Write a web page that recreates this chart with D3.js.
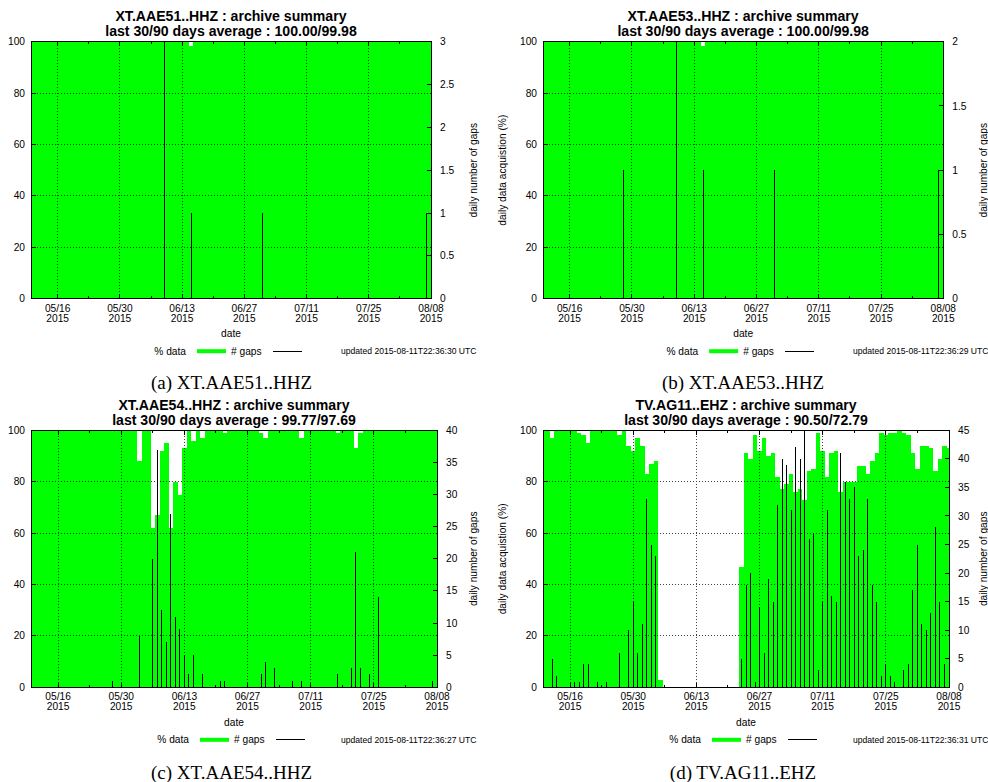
<!DOCTYPE html>
<html><head><meta charset="utf-8">
<script src="https://cdn.jsdelivr.net/npm/d3@7"></script>
<style>
body{margin:0;background:#fff}
svg{display:block}
text{font-family:"Liberation Sans",Arial,Helvetica,sans-serif;fill:#000}
</style>
</head><body><svg id="chart" width="988" height="782"></svg>
<script>
// ---------- data ----------
const startDate = "2015-05-10";
const endDate = "2015-08-08";
const xTickDates = ["2015-05-16","2015-05-30","2015-06-13","2015-06-27","2015-07-11","2015-07-25","2015-08-08"];
const xMinorDates = ["2015-05-23","2015-06-06","2015-06-20","2015-07-04","2015-07-18","2015-08-01"];
const yTicks = [0,20,40,60,80,100];

// daily data acquisition (%) per day starting 2015-05-10 (91 days)
const pctA = [
100,100,100,100,100,100,100,100,100,100,
100,100,100,100,100,100,100,100,100,100,
100,100,100,100,100,100,100,100,100,100,
100,100,100,100,100,100,98.5,100,100,100,
100,100,100,100,100,100,100,100,100,100,
100,100,100,100,100,100,100,100,100,100,
100,100,100,100,100,100,100,100,100,100,
100,100,100,100,100,100,100,100,100,100,
100,100,100,100,100,100,100,100,100,100,
100];
const gapsA = [
0,0,0,0,0,0,0,0,0,0,
0,0,0,0,0,0,0,0,0,0,
0,0,0,0,0,0,0,0,0,0,
3,0,0,0,0,0,1,0,0,0,
0,0,0,0,0,0,0,0,0,0,
0,0,1,0,0,0,0,0,0,0,
0,0,0,0,0,0,0,0,0,0,
0,0,0,0,0,0,0,0,0,0,
0,0,0,0,0,0,0,0,0,1,
0];
const y2TicksA = [0,0.5,1,1.5,2,2.5,3];

const pctB = [
100,100,100,100,100,100,100,100,100,100,
100,100,100,100,100,100,100,100,100,100,
100,100,100,100,100,100,100,100,100,100,
100,100,100,100,100,100,98.5,100,100,100,
100,100,100,100,100,100,100,100,100,100,
100,100,100,100,100,100,100,100,100,100,
100,100,100,100,100,100,100,100,100,100,
100,100,100,100,100,100,100,100,100,100,
100,100,100,100,100,100,100,100,100,100,
100];
const gapsB = [
0,0,0,0,0,0,0,0,0,0,
0,0,0,0,0,0,0,0,1,0,
0,0,0,0,0,0,0,0,0,0,
2,0,0,0,0,0,1,0,0,0,
0,0,0,0,0,0,0,0,0,0,
0,0,1,0,0,0,0,0,0,0,
0,0,0,0,0,0,0,0,0,0,
0,0,0,0,0,0,0,0,0,0,
0,0,0,0,0,0,0,0,0,1,
0];
const y2TicksB = [0,0.5,1,1.5,2];

const pctC = [
100,100,100,100,100,100,100,100,100,100,
100,100,100,100,100,100,100,100,100,100,
100,100,100,100,88,100,100,62,67,92,
95,62,80,75,93,100,96,100,97,100,
100,100,100,99,100,100,100,100,100,100,
100,99,97,100,100,100,100,100,100,100,
97,100,100,100,100,100,100,100,99,100,
100,100,93,99,100,100,100,100,100,100,
100,100,100,100,100,100,100,100,100,100,
100];
const gapsC = [
0,0,0,0,0,0,0,0,0,0,
0,0,0,0,0,0,0,0,1,0,
0,0,0,0,8,0,0,20,37,12,
7,27,11,9,5,2,5,0,2,0,
0,0,1,1,0,0,0,0,0,0,
0,2,4,0,3,0,0,0,1,0,
1,0,0,0,0,0,0,0,2,0,
0,3,21,3,0,2,0,14,0,0,
0,0,0,0,0,0,0,0,0,1,
0];
const y2TicksC = [0,5,10,15,20,25,30,35,40];

const pctD = [
100,100,97,100,100,100,100,100,99,98,
95,100,100,100,100,100,100,98,100,94,
92,97,94,83,87,88,3,0,0,0,
0,0,0,0,0,0,0,0,0,0,
0,0,0,0,47,91,89,98,92,97,
90,91,82,77,79,83,76,77,73,84,
85,99,92,82,91,92,76,80,80,80,
86,86,83,88,91,99,98,99,99,100,
99,98,91,85,94,94,93,84,89,94,
93];
const gapsD = [
2,0,5,2,0,0,0,1,1,4,
4,0,1,0,1,0,0,6,0,10,
15,6,11,33,25,23,0,0,0,0,
0,0,0,0,0,0,0,0,0,0,
0,0,0,0,5,18,20,1,14,6,
19,15,32,40,39,31,42,40,45,26,
27,3,15,31,16,15,41,36,33,35,
23,24,33,18,15,2,4,2,1,0,
3,4,17,25,11,10,13,28,15,4,
0];
const y2TicksD = [0,5,10,15,20,25,30,35,40,45];

const titlesA = ["XT.AAE51..HHZ : archive summary","last 30/90 days average : 100.00/99.98"];
const titlesB = ["XT.AAE53..HHZ : archive summary","last 30/90 days average : 100.00/99.98"];
const titlesC = ["XT.AAE54..HHZ : archive summary","last 30/90 days average : 99.77/97.69"];
const titlesD = ["TV.AG11..EHZ : archive summary","last 30/90 days average : 90.50/72.79"];
const captions = ["(a) XT.AAE51..HHZ","(b) XT.AAE53..HHZ","(c) XT.AAE54..HHZ","(d) TV.AG11..EHZ"];
const updated = ["updated 2015-08-11T22:36:30 UTC","updated 2015-08-11T22:36:29 UTC","updated 2015-08-11T22:36:27 UTC","updated 2015-08-11T22:36:31 UTC"];
const leftTitle = "daily data acquistion (%)";
const rightTitle = "daily number of gaps";
const xTitle = "date";
const legendLabels = ["% data","# gaps"];

// ---------- layout ----------
const panels = [
  {pct:pctA, gaps:gapsA, y2t:y2TicksA, titles:titlesA, cap:captions[0], upd:updated[0],
   L:31, R:431, T:41.7, B:298.7, leftTitleX:null, rightTitleX:473, capX:231.5, capY:382.5},
  {pct:pctB, gaps:gapsB, y2t:y2TicksB, titles:titlesB, cap:captions[1], upd:updated[1],
   L:543, R:943.3, T:41.7, B:298.7, leftTitleX:502.3, rightTitleX:983.3, capX:743, capY:382.5},
  {pct:pctC, gaps:gapsC, y2t:y2TicksC, titles:titlesC, cap:captions[2], upd:updated[2],
   L:31, R:437, T:430.3, B:687.3, leftTitleX:null, rightTitleX:473, capX:231.5, capY:772},
  {pct:pctD, gaps:gapsD, y2t:y2TicksD, titles:titlesD, cap:captions[3], upd:updated[3],
   L:543, R:949, T:430.3, B:687.3, leftTitleX:502.3, rightTitleX:983.3, capX:743, capY:772}
];

const GREEN = "#00ff00";
const svg = d3.select("#chart");
svg.append("rect").attr("width",988).attr("height",782).attr("fill","#fff");
const parse = d3.utcParse("%Y-%m-%d");
const start = parse(startDate), end = parse(endDate);
const fmtMD = d3.utcFormat("%m/%d"), fmtY = d3.utcFormat("%Y");

panels.forEach((p, pi) => {
  const g = svg.append("g");
  const x = d3.scaleUtc().domain([start, end]).range([p.L, p.R]);
  const y = d3.scaleLinear().domain([0,100]).range([p.B, p.T]);
  const y2max = d3.max(p.y2t);
  const y2 = d3.scaleLinear().domain([0, y2max]).range([p.B, p.T]);
  const cx = (p.L + p.R) / 2, cy = (p.T + p.B) / 2;

  const clipId = "clip" + pi;
  svg.append("clipPath").attr("id", clipId).append("rect")
    .attr("x", p.L).attr("y", p.T).attr("width", p.R - p.L).attr("height", p.B - p.T);

  const plot = g.append("g").attr("clip-path", `url(#${clipId})`);
  const days = p.pct.map((v, i) => ({date: d3.utcDay.offset(start, i), pct: v, gaps: p.gaps[i]}));

  // bars (% data), centred on each day
  plot.selectAll("rect.bar").data(days.filter(d => d.pct > 0)).join("rect")
    .attr("class","bar")
    .attr("x", d => x(d3.utcHour.offset(d.date, -12)))
    .attr("width", d => x(d3.utcHour.offset(d.date, 12)) - x(d3.utcHour.offset(d.date, -12)))
    .attr("y", d => y(d.pct))
    .attr("height", d => y(0) - y(d.pct))
    .attr("fill", GREEN)
    .attr("shape-rendering","crispEdges");

  // gap impulses
  plot.selectAll("line.gap").data(days.filter(d => d.gaps > 0)).join("line")
    .attr("class","gap")
    .attr("x1", d => x(d.date)).attr("x2", d => x(d.date))
    .attr("y1", y2(0)).attr("y2", d => y2(d.gaps))
    .attr("stroke","#000").attr("stroke-width",1)
    .attr("shape-rendering","crispEdges");

  // grid
  const grid = g.append("g").attr("stroke","#000").attr("stroke-width",1)
    .attr("stroke-dasharray","1,2").attr("opacity",0.75).attr("shape-rendering","crispEdges");
  xTickDates.map(parse).forEach(d => {
    const xx = x(d);
    if (xx < p.R - 1) grid.append("line").attr("x1",xx).attr("x2",xx).attr("y1",p.T).attr("y2",p.B);
  });
  yTicks.forEach(v => {
    if (v > 0 && v < 100) grid.append("line").attr("x1",p.L).attr("x2",p.R).attr("y1",y(v)).attr("y2",y(v));
  });

  // frame
  g.append("rect").attr("x",p.L).attr("y",p.T).attr("width",p.R-p.L).attr("height",p.B-p.T)
    .attr("fill","none").attr("stroke","#000").attr("stroke-width",1).attr("shape-rendering","crispEdges");

  // ticks
  const tk = g.append("g").attr("stroke","#000").attr("stroke-width",1).attr("shape-rendering","crispEdges");
  xTickDates.map(parse).forEach(d => {
    const xx = x(d);
    tk.append("line").attr("x1",xx).attr("x2",xx).attr("y1",p.B).attr("y2",p.B-4.5);
    tk.append("line").attr("x1",xx).attr("x2",xx).attr("y1",p.T).attr("y2",p.T+4.5);
  });
  xMinorDates.map(parse).forEach(d => {
    const xx = x(d);
    tk.append("line").attr("x1",xx).attr("x2",xx).attr("y1",p.B).attr("y2",p.B-2.3);
    tk.append("line").attr("x1",xx).attr("x2",xx).attr("y1",p.T).attr("y2",p.T+2.3);
  });
  yTicks.forEach(v => tk.append("line").attr("x1",p.L).attr("x2",p.L+4.5).attr("y1",y(v)).attr("y2",y(v)));
  p.y2t.forEach(v => tk.append("line").attr("x1",p.R).attr("x2",p.R-4.5).attr("y1",y2(v)).attr("y2",y2(v)));

  // tick labels
  const lab = g.append("g").attr("font-size","10.2px");
  yTicks.forEach(v => lab.append("text").attr("x",p.L-6).attr("y",y(v)).attr("dy","0.35em")
    .attr("text-anchor","end").text(v));
  p.y2t.forEach(v => lab.append("text").attr("x",p.R+9).attr("y",y2(v)).attr("dy","0.35em")
    .attr("text-anchor","start").text(v));
  xTickDates.map(parse).forEach(d => {
    const xx = x(d);
    lab.append("text").attr("x",xx).attr("y",p.B+9.6).attr("dy","0.35em").attr("text-anchor","middle").text(fmtMD(d));
    lab.append("text").attr("x",xx).attr("y",p.B+19.6).attr("dy","0.35em").attr("text-anchor","middle").text(fmtY(d));
  });
  lab.append("text").attr("x",cx).attr("y",p.B+34.8).attr("dy","0.35em").attr("text-anchor","middle").text(xTitle);

  // axis titles
  if (p.leftTitleX !== null) {
    lab.append("text").attr("transform",`translate(${p.leftTitleX},${cy}) rotate(-90)`)
      .attr("dy","0.35em").attr("text-anchor","middle").text(leftTitle);
  }
  lab.append("text").attr("transform",`translate(${p.rightTitleX},${cy}) rotate(-90)`)
    .attr("dy","0.35em").attr("text-anchor","middle").text(rightTitle);

  // title
  g.append("text").attr("x",cx).attr("y",p.T-25.4).attr("dy","0.35em").attr("text-anchor","middle")
    .attr("font-size","14.1px").attr("font-weight","bold").text(p.titles[0]);
  g.append("text").attr("x",cx).attr("y",p.T-10.7).attr("dy","0.35em").attr("text-anchor","middle")
    .attr("font-size","14.1px").attr("font-weight","bold").text(p.titles[1]);

  // legend
  const ly = p.B + 52.5;
  lab.append("text").attr("x",cx-45).attr("y",ly).attr("dy","0.35em").attr("text-anchor","end").text(legendLabels[0]);
  g.append("rect").attr("x",cx-34).attr("y",ly-2).attr("width",29).attr("height",4).attr("fill",GREEN);
  lab.append("text").attr("x",cx).attr("y",ly).attr("dy","0.35em").attr("text-anchor","start").text(legendLabels[1]);
  g.append("line").attr("x1",cx+42).attr("x2",cx+71).attr("y1",ly).attr("y2",ly)
    .attr("stroke","#000").attr("stroke-width",1).attr("shape-rendering","crispEdges");
  g.append("text").attr("x",p.L+310).attr("y",ly).attr("dy","0.35em").attr("font-size","8.6px").text(p.upd);

  // caption
  svg.append("text").attr("x",p.capX).attr("y",p.capY).attr("dy","0.35em").attr("text-anchor","middle")
    .style("font-family",'"Liberation Serif","Times New Roman",Times,serif')
    .attr("font-size","19px").text(p.cap);
});
</script>
</body></html>
